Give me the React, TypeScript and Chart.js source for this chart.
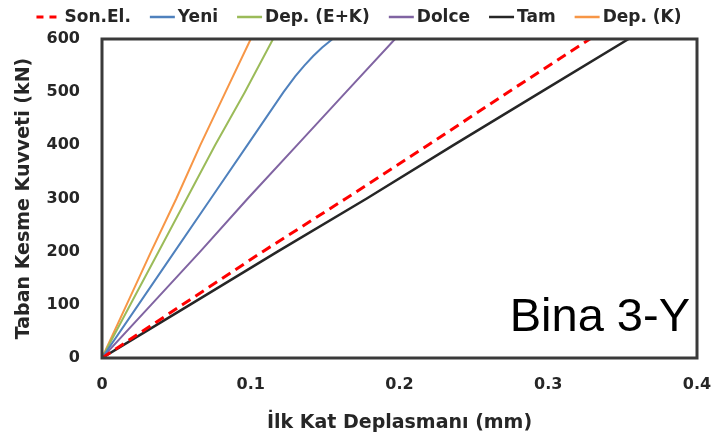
import React, { useEffect, useRef } from "react";
import { Chart, registerables } from "chart.js";

Chart.register(...registerables);

// Shear force levels (kN)
const forceLevels = [0, 100, 200, 300, 400, 500, 600];
// First-storey displacement (mm) at each force level
const sonEl = [0, 0.054, 0.108, 0.164, 0.219, 0.273, 0.328];
const dolce = [0, 0.033, 0.066, 0.098, 0.131, 0.164, 0.197];
const tam = [0, 0.059, 0.118, 0.178, 0.236, 0.295, 0.354];
const depK = [0, 0.0165, 0.033, 0.05, 0.066, 0.083, 0.1];
const depEK = [0, 0.019, 0.038, 0.057, 0.076, 0.096, 0.115];
// Yeni has a bend near the top
const yeniForce = [0, 100, 200, 300, 400, 500, 530, 550, 568, 584, 600];
const yeniDisp = [0, 0.0244, 0.0488, 0.0732, 0.0976, 0.122, 0.13, 0.136, 0.142, 0.148, 0.155];

const xTicks = [0, 0.1, 0.2, 0.3, 0.4];
const yTicks = [0, 100, 200, 300, 400, 500, 600];

const pts = (xs: number[], ys: number[]) => xs.map((x, i) => ({ x, y: ys[i] }));

const FONT = "'DejaVu Sans', sans-serif";

export default function App() {
  const ref = useRef<HTMLCanvasElement | null>(null);
  useEffect(() => {
    document.body.style.margin = "0";
    const frame = {
      id: "frame",
      afterDatasetsDraw(chart: any) {
        const { ctx, chartArea: a } = chart;
        ctx.save();
        ctx.strokeStyle = "#3a3a3a";
        ctx.lineWidth = 3;
        ctx.strokeRect(a.left, a.top, a.right - a.left, a.bottom - a.top);
        ctx.fillStyle = "#000";
        ctx.font = "47px 'Liberation Sans', Arial, sans-serif";
        ctx.textAlign = "right";
        ctx.textBaseline = "alphabetic";
        ctx.fillText("Bina 3-Y", a.right - 7, a.bottom - 27);
        ctx.restore();
      },
    };
    const legend = {
      id: "customLegend",
      afterDraw(chart: any) {
        const { ctx } = chart;
        const lineLen = 25;
        const gapText = 3;
        const gapItem = 19;
        ctx.save();
        ctx.font = "bold 17px " + FONT;
        ctx.textBaseline = "middle";
        ctx.textAlign = "left";
        const items = chart.data.datasets.map((d: any) => ({
          label: d.label,
          color: d.borderColor,
          dash: d.borderDash,
          width: d.borderWidth,
          w: ctx.measureText(d.label).width,
        }));
        const total = items.reduce((s: number, it: any) => s + lineLen + gapText + it.w, 0) + gapItem * (items.length - 1);
        let x = 359 - total / 2;
        const y = 17;
        items.forEach((it: any) => {
          ctx.beginPath();
          ctx.strokeStyle = it.color;
          ctx.lineWidth = Math.max(it.width, 2.5);
          ctx.setLineDash(it.dash && it.dash.length ? [7, 6] : []);
          ctx.moveTo(x, y);
          ctx.lineTo(x + lineLen, y);
          ctx.stroke();
          ctx.setLineDash([]);
          ctx.fillStyle = "#262626";
          ctx.fillText(it.label, x + lineLen + gapText, y + 1);
          x += lineLen + gapText + it.w + gapItem;
        });
        ctx.restore();
      },
    };
    const ds = (label: string, data: any, color: string, width: number, dash?: number[]) => ({
      label,
      data,
      borderColor: color,
      backgroundColor: color,
      borderWidth: width,
      borderDash: dash || [],
      pointRadius: 0,
      tension: 0,
      fill: false,
    });
    const chart = new Chart(ref.current as HTMLCanvasElement, {
      type: "line",
      data: {
        datasets: [
          ds("Son.El.", pts(sonEl, forceLevels), "#FF0000", 3, [10, 6]),
          ds("Yeni", pts(yeniDisp, yeniForce), "#4F81BD", 2),
          ds("Dep. (E+K)", pts(depEK, forceLevels), "#9BBB59", 2),
          ds("Dolce", pts(dolce, forceLevels), "#8064A2", 2),
          ds("Tam", pts(tam, forceLevels), "#262626", 2.5),
          ds("Dep. (K)", pts(depK, forceLevels), "#F79646", 2),
        ],
      },
      options: {
        animation: false,
        responsive: false,
        layout: { padding: { left: 0, right: 14, top: 39, bottom: 0 } },
        plugins: {
          tooltip: { enabled: false },
          legend: { display: false },
        },
        scales: {
          x: {
            type: "linear",
            min: 0,
            max: 0.4,
            afterBuildTicks: (s: any) => {
              s.ticks = xTicks.map((v) => ({ value: v }));
            },
            afterFit: (s: any) => {
              s.paddingRight = 0;
              s.paddingLeft = 0;
              s.height = 84;
            },
            grid: { display: false, drawTicks: false },
            border: { display: false },
            ticks: {
              padding: 17,
              color: "#262626",
              font: { family: FONT, size: 16, weight: "bold" },
              callback: (v: any) => String(v),
              maxRotation: 0,
            },
            title: {
              display: true,
              text: "İlk Kat Deplasmanı (mm)",
              color: "#262626",
              font: { family: FONT, size: 19, weight: "bold" },
              padding: { top: 6, bottom: 8 },
            },
          },
          y: {
            type: "linear",
            min: 0,
            max: 600,
            afterBuildTicks: (s: any) => {
              s.ticks = yTicks.map((v) => ({ value: v }));
            },
            afterFit: (s: any) => {
              s.width = 102;
              s.paddingTop = 0;
            },
            grid: { display: false, drawTicks: false },
            border: { display: false },
            ticks: {
              padding: 22,
              color: "#262626",
              font: { family: FONT, size: 16, weight: "bold" },
            },
            title: {
              display: true,
              text: "Taban Kesme Kuvveti (kN)",
              color: "#262626",
              font: { family: FONT, size: 19, weight: "bold" },
              padding: { top: 13, bottom: 0 },
            },
          },
        },
      },
      plugins: [frame, legend],
    } as any);
    return () => chart.destroy();
  }, []);
  return <canvas ref={ref} width={711} height={442} style={{ display: "block" }} />;
}
